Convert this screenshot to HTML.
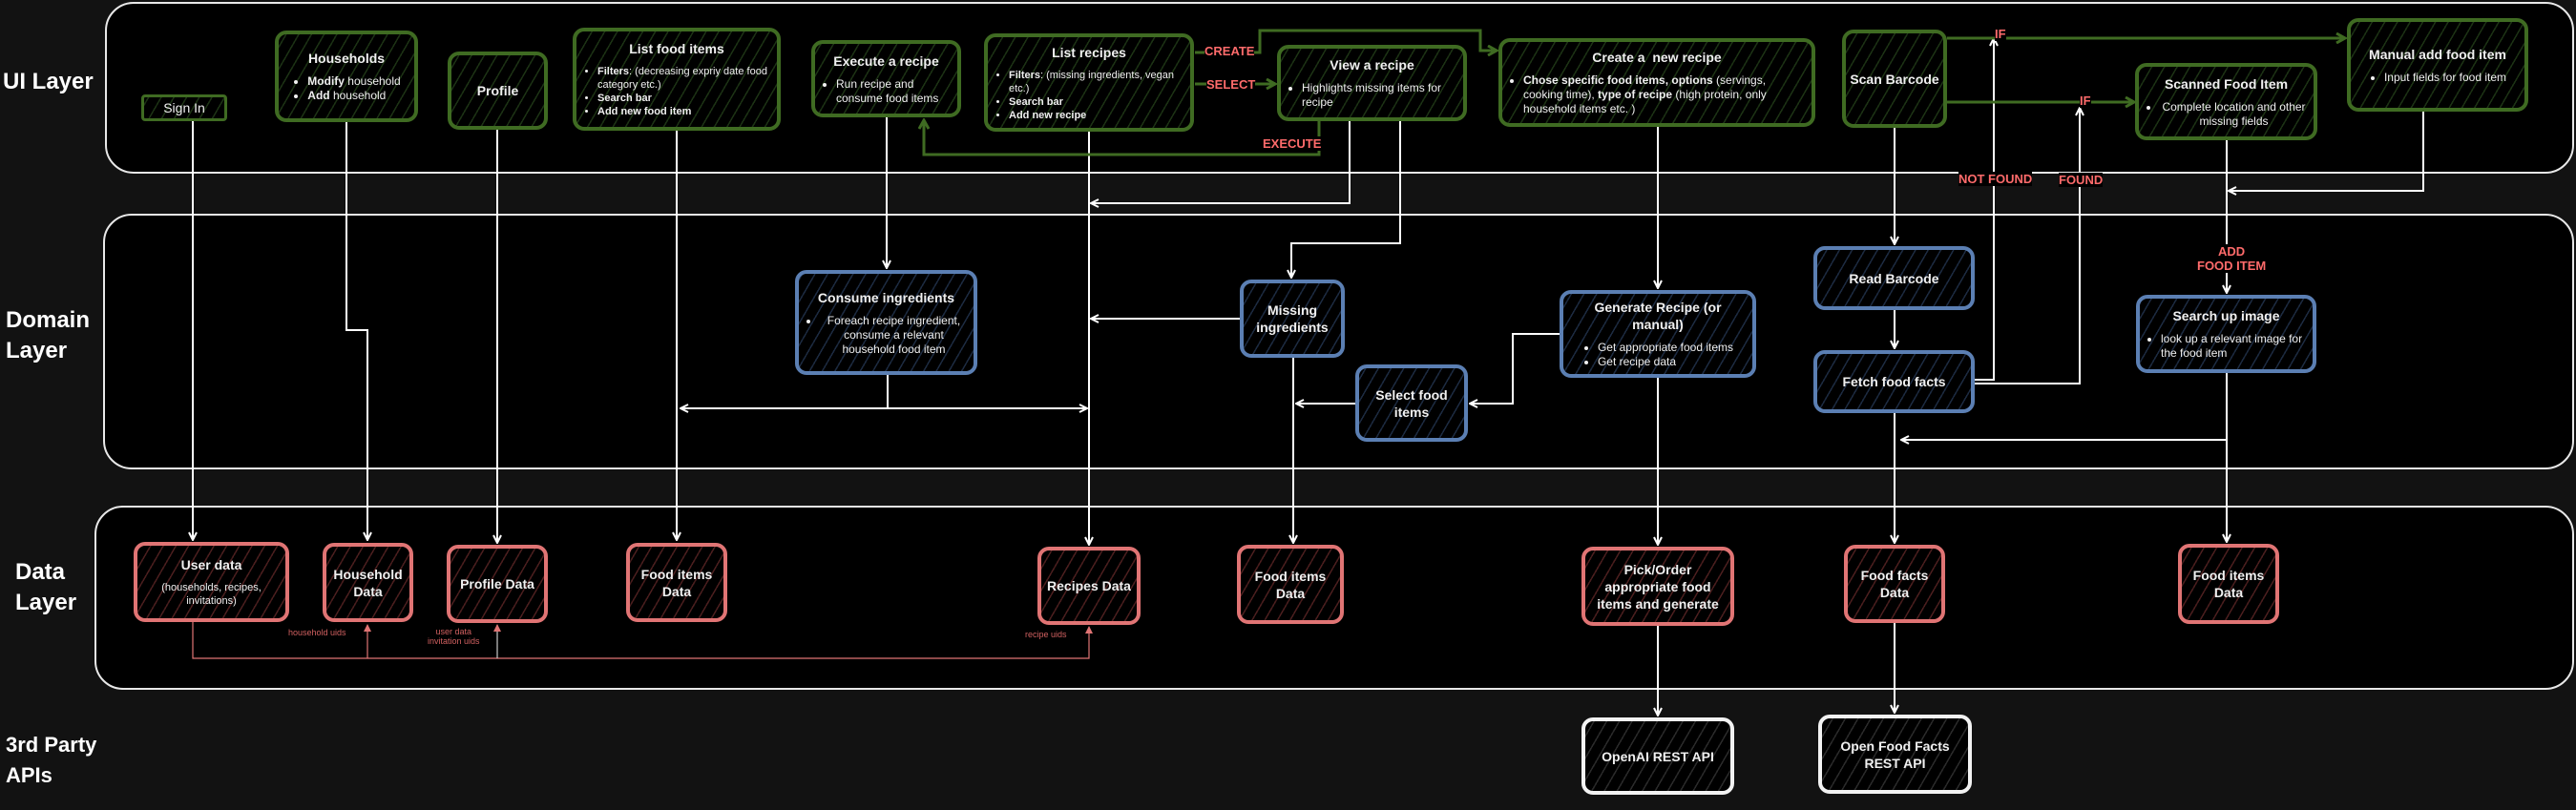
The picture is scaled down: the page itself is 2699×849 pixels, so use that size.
<!DOCTYPE html>
<html><head><meta charset="utf-8">
<style>
html,body{margin:0;padding:0;}
body{width:2699px;height:849px;background:#121212;position:relative;overflow:hidden;font-family:"Liberation Sans",Arial,sans-serif;color:#fff;}
.lane{position:absolute;background:#000;border:2px solid #e8e8e8;border-right:none;border-radius:30px 0 0 30px;}
.lane.r{border-right:2px solid #e8e8e8;border-radius:30px;}
.ll{position:absolute;font-weight:bold;font-size:24px;line-height:32px;color:#fff;}
.n{position:absolute;box-sizing:border-box;border:4px solid;border-radius:12px;display:flex;flex-direction:column;align-items:center;justify-content:center;text-align:center;font-size:12px;line-height:15px;color:#f0f0f0;}
.g{border-color:#3f6b22;background:repeating-linear-gradient(-60deg,#000 0 10px,#1c3214 10px 11.5px);}
.b{border-color:#5b7fb3;background:repeating-linear-gradient(-60deg,#000 0 10px,#1c2a40 10px 11.5px);}
.rd{border-color:#e07474;background:repeating-linear-gradient(-60deg,#000 0 10px,#4a1e1e 10px 11.5px);}
.w{border-color:#f2f2f2;background:repeating-linear-gradient(-60deg,#000 0 10px,#2a2a2a 10px 11.5px);}
.t{font-weight:bold;font-size:14px;line-height:18px;margin-bottom:8px;}
.n ul{margin:0;padding:0 6px 0 22px;text-align:left;}
.n li{margin:0;}
.lb{position:absolute;color:#ff6b6b;font-size:13px;font-weight:bold;background:#000;line-height:15px;white-space:nowrap;}
.sm{position:absolute;color:#d06060;font-size:9px;line-height:10px;text-align:center;white-space:nowrap;}
svg{position:absolute;left:0;top:0;}
</style></head><body>
<div class="lane r" style="left:110px;top:2px;width:2583px;height:176px;"></div>
<div class="lane r" style="left:108px;top:224px;width:2585px;height:264px;"></div>
<div class="lane r" style="left:99px;top:530px;width:2594px;height:189px;"></div>
<div class="ll" style="left:3px;top:70px;">UI Layer</div>
<div class="ll" style="left:6px;top:320px;">Domain<br>Layer</div>
<div class="ll" style="left:16px;top:584px;">Data<br>Layer</div>
<div class="ll" style="left:6px;top:765px;font-size:22px;">3rd Party<br>APIs</div>

<svg width="2699" height="849">
<defs>
<marker id="aw" markerWidth="10" markerHeight="10" refX="9" refY="5" orient="auto" markerUnits="userSpaceOnUse"><path d="M1,1 L9,5 L1,9" fill="none" stroke="#fff" stroke-width="2"/></marker>
<marker id="ag" markerWidth="12" markerHeight="12" refX="10" refY="6" orient="auto" markerUnits="userSpaceOnUse"><path d="M1,1 L10,6 L1,11" fill="none" stroke="#3f6b22" stroke-width="3"/></marker>
<marker id="ar" markerWidth="8" markerHeight="8" refX="7" refY="4" orient="auto" markerUnits="userSpaceOnUse"><path d="M0,0 L8,4 L0,8 z" fill="#e07474"/></marker>
</defs>
<g fill="none" stroke="#fff" stroke-width="2">
<path d="M202,127 V566" marker-end="url(#aw)"/>
<path d="M363,128 V346 H385 V566" marker-end="url(#aw)"/>
<path d="M521,136 V569" marker-end="url(#aw)"/>
<path d="M709,137 V566" marker-end="url(#aw)"/>
<path d="M929,123 V281" marker-end="url(#aw)"/>
<path d="M930,393 V428"/>
<path d="M930,428 H713" marker-end="url(#aw)"/>
<path d="M930,428 H1139" marker-end="url(#aw)"/>
<path d="M1141,138 V571" marker-end="url(#aw)"/>
<path d="M1414,127 V213 H1143" marker-end="url(#aw)"/>
<path d="M1299,334 H1143" marker-end="url(#aw)"/>
<path d="M1467,123 V255 H1353 V291" marker-end="url(#aw)"/>
<path d="M1355,375 V569" marker-end="url(#aw)"/>
<path d="M1420,423 H1358" marker-end="url(#aw)"/>
<path d="M1634,350 H1585 V423 H1540" marker-end="url(#aw)"/>
<path d="M1737,133 V302" marker-end="url(#aw)"/>
<path d="M1737,396 V571" marker-end="url(#aw)"/>
<path d="M1737,656 V750" marker-end="url(#aw)"/>
<path d="M1985,134 V256" marker-end="url(#aw)"/>
<path d="M1985,325 V365" marker-end="url(#aw)"/>
<path d="M1985,433 V569" marker-end="url(#aw)"/>
<path d="M1985,653 V747" marker-end="url(#aw)"/>
<path d="M2069,398 H2089 V40" marker-end="url(#aw)"/>
<path d="M2069,402 H2179 V113" marker-end="url(#aw)"/>
<path d="M2333,146 V307" marker-end="url(#aw)"/>
<path d="M2539,117 V200 H2335" marker-end="url(#aw)"/>
<path d="M2333,391 V568" marker-end="url(#aw)"/>
<path d="M2333,461 H1992" marker-end="url(#aw)"/>
</g>
<g fill="none" stroke="#3f6b22" stroke-width="3">
<path d="M1252,55 H1320 V32 H1551 V53 H1568" marker-end="url(#ag)"/>
<path d="M1252,88 H1336" marker-end="url(#ag)"/>
<path d="M1382,127 V162 H968 V126" marker-end="url(#ag)"/>
<path d="M2040,40 H2457" marker-end="url(#ag)"/>
<path d="M2040,107 H2236" marker-end="url(#ag)"/>
</g>
<g fill="none" stroke="#e07474" stroke-width="1.2">
<path d="M202,652 V690 H1141 V657" marker-end="url(#ar)"/>
<path d="M385,690 V655" marker-end="url(#ar)"/>
<path d="M521,690 V655" stroke="#ccc" marker-end="url(#ar)"/>
</g>
</svg>

<div class="lb" style="left:1262px;top:46px;">CREATE</div>
<div class="lb" style="left:1264px;top:81px;">SELECT</div>
<div class="lb" style="left:1323px;top:143px;">EXECUTE</div>
<div class="lb" style="left:2090px;top:28px;">IF</div>
<div class="lb" style="left:2179px;top:98px;">IF</div>
<div class="lb" style="left:2052px;top:180px;">NOT FOUND</div>
<div class="lb" style="left:2157px;top:181px;">FOUND</div>
<div class="lb" style="left:2302px;top:256px;text-align:center;">ADD<br>FOOD ITEM</div>
<div class="sm" style="left:302px;top:658px;">household uids</div>
<div class="sm" style="left:448px;top:657px;">user data<br>invitation uids</div>
<div class="sm" style="left:1074px;top:660px;">recipe uids</div>

<div class="n g" style="left:148px;top:99px;width:90px;height:28px;border-width:3px;border-radius:4px;font-size:14px;">Sign In</div>
<div class="n g" style="left:288px;top:32px;width:150px;height:96px;"><div class="t">Households</div><ul><li><b>Modify</b> household</li><li><b>Add</b> household</li></ul></div>
<div class="n g" style="left:469px;top:54px;width:105px;height:82px;"><div class="t" style="margin:0">Profile</div></div>
<div class="n g" style="left:600px;top:29px;width:218px;height:108px;font-size:11px;line-height:14px;"><div class="t">List food items</div><ul><li><b>Filters</b>: (decreasing expriy date food category etc.)</li><li><b>Search bar</b></li><li><b>Add new food item</b></li></ul></div>
<div class="n g" style="left:850px;top:42px;width:157px;height:81px;"><div class="t">Execute a recipe</div><ul><li>Run recipe and consume food items</li></ul></div>
<div class="n g" style="left:1031px;top:35px;width:220px;height:103px;font-size:11px;line-height:14px;"><div class="t">List recipes</div><ul><li><b>Filters</b>: (missing ingredients, vegan etc.)</li><li><b>Search bar</b></li><li><b>Add new recipe</b></li></ul></div>
<div class="n g" style="left:1338px;top:47px;width:199px;height:80px;"><div class="t">View a recipe</div><ul><li>Highlights missing items for recipe</li></ul></div>
<div class="n g" style="left:1570px;top:40px;width:332px;height:93px;"><div class="t">Create a &nbsp;new recipe</div><ul><li><b>Chose specific food items, options</b> (servings, cooking time), <b>type of recipe</b> (high protein, only household items etc. )</li></ul></div>
<div class="n g" style="left:1930px;top:31px;width:110px;height:103px;"><div class="t" style="margin:0">Scan Barcode</div></div>
<div class="n g" style="left:2237px;top:66px;width:191px;height:81px;"><div class="t">Scanned Food Item</div><ul><li style="text-align:center">Complete location and other missing fields</li></ul></div>
<div class="n g" style="left:2459px;top:19px;width:190px;height:98px;"><div class="t">Manual add food item</div><ul><li>Input fields for food item</li></ul></div>

<div class="n b" style="left:833px;top:283px;width:191px;height:110px;"><div class="t">Consume ingredients</div><ul><li style="text-align:center">Foreach recipe ingredient, consume a relevant household food item</li></ul></div>
<div class="n b" style="left:1299px;top:293px;width:110px;height:82px;"><div class="t" style="margin:0">Missing<br>ingredients</div></div>
<div class="n b" style="left:1420px;top:382px;width:118px;height:81px;"><div class="t" style="margin:0">Select food<br>items</div></div>
<div class="n b" style="left:1634px;top:304px;width:206px;height:92px;"><div class="t">Generate Recipe (or<br>manual)</div><ul><li>Get appropriate food items</li><li>Get recipe data</li></ul></div>
<div class="n b" style="left:1900px;top:258px;width:169px;height:67px;"><div class="t" style="margin:0">Read Barcode</div></div>
<div class="n b" style="left:1900px;top:367px;width:169px;height:66px;"><div class="t" style="margin:0">Fetch food facts</div></div>
<div class="n b" style="left:2238px;top:309px;width:189px;height:82px;"><div class="t">Search up image</div><ul><li>look up a relevant image for the food item</li></ul></div>

<div class="n rd" style="left:140px;top:568px;width:163px;height:84px;"><div class="t">User data</div><div style="font-size:11px;line-height:14px;">(households, recipes,<br>invitations)</div></div>
<div class="n rd" style="left:338px;top:569px;width:95px;height:83px;"><div class="t" style="margin:0">Household<br>Data</div></div>
<div class="n rd" style="left:468px;top:571px;width:106px;height:82px;"><div class="t" style="margin:0">Profile Data</div></div>
<div class="n rd" style="left:656px;top:569px;width:106px;height:83px;"><div class="t" style="margin:0">Food items<br>Data</div></div>
<div class="n rd" style="left:1087px;top:573px;width:108px;height:82px;"><div class="t" style="margin:0">Recipes Data</div></div>
<div class="n rd" style="left:1296px;top:571px;width:112px;height:83px;"><div class="t" style="margin:0">Food items<br>Data</div></div>
<div class="n rd" style="left:1657px;top:573px;width:160px;height:83px;"><div class="t" style="margin:0">Pick/Order<br>appropriate food<br>items and generate</div></div>
<div class="n rd" style="left:1932px;top:571px;width:106px;height:82px;"><div class="t" style="margin:0">Food facts<br>Data</div></div>
<div class="n rd" style="left:2282px;top:570px;width:106px;height:84px;"><div class="t" style="margin:0">Food items<br>Data</div></div>

<div class="n w" style="left:1657px;top:752px;width:160px;height:81px;"><div class="t" style="margin:0">OpenAI REST API</div></div>
<div class="n w" style="left:1905px;top:749px;width:161px;height:83px;"><div class="t" style="margin:0">Open Food Facts<br>REST API</div></div>
</body></html>
